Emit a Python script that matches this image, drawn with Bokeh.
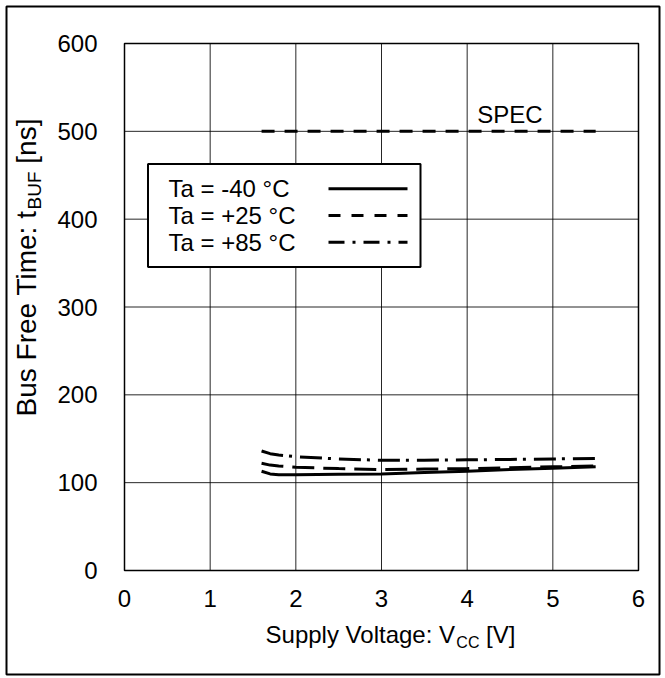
from bokeh.plotting import figure
from bokeh.models import Range1d, Label, BoxAnnotation, FixedTicker
from bokeh.embed import file_html
from bokeh.resources import INLINE
import math

# ---------------- data ----------------
vcc = [1.6, 1.7, 1.8, 2.0, 2.5, 3.0, 3.5, 4.0, 4.5, 5.0, 5.5]
tbuf_m40 = [113, 110, 109, 109, 109.5, 110, 111.5, 113, 115, 116.5, 118]
tbuf_p25 = [122, 120, 119, 117.5, 116, 115, 115.5, 116, 117, 118, 119]
tbuf_p85 = [136, 133, 131.5, 129.5, 127, 125.5, 125.5, 126, 126.5, 127, 127.5]
spec_x = [1.6, 5.5]
spec_y = [500, 500]
series_names = ["Ta = -40 °C", "Ta = +25 °C", "Ta = +85 °C"]
x_ticks = [0, 1, 2, 3, 4, 5, 6]
y_ticks = [0, 100, 200, 300, 400, 500, 600]

FONT = "Liberation Sans"
FS = 24
W, H = 665, 678

# pixel placement of the data area inside the canvas
PX_L, PX_R, PX_B, PX_T = 124, 638, 570, 43
XMIN, XMAX, YMIN, YMAX = 0, 6, 0, 600
SX = (PX_R - PX_L) / (XMAX - XMIN)
SY = (PX_B - PX_T) / (YMAX - YMIN)

def dx(px):
    return XMIN + (px - PX_L) / SX

def dy(py):
    return YMIN + (PX_B - py) / SY

p = figure(width=W, height=H, x_range=Range1d(dx(0), dx(W)), y_range=Range1d(dy(H), dy(0)),
           output_backend="svg", toolbar_location=None,
           min_border_left=0, min_border_right=0, min_border_top=0, min_border_bottom=0)
p.title.visible = False
p.background_fill_color = "white"
p.border_fill_color = "white"
p.outline_line_color = None
p.grid.visible = False

# axes drawn at the edges of the data area
p.xaxis.fixed_location = 0
p.yaxis.fixed_location = 0
p.xaxis.bounds = (XMIN, XMAX)
p.yaxis.bounds = (YMIN, YMAX)
for ax, ticks in ((p.xaxis[0], x_ticks), (p.yaxis[0], y_ticks)):
    ax.ticker = FixedTicker(ticks=ticks)
    ax.axis_line_color = None
    ax.major_tick_line_color = None
    ax.minor_tick_line_color = None
    ax.major_tick_in = 0
    ax.major_tick_out = 0
    ax.major_label_text_font = FONT
    ax.major_label_text_font_size = f"{FS}px"
    ax.major_label_text_color = "black"
p.xaxis.major_label_standoff = 19
p.yaxis.major_label_standoff = 27

# grid lines at the ticks
p.segment(x0=x_ticks, y0=[YMIN] * len(x_ticks), x1=x_ticks, y1=[YMAX] * len(x_ticks),
          line_color="black", line_width=1, line_alpha=0.85)
p.segment(x0=[XMIN] * len(y_ticks), y0=y_ticks, x1=[XMAX] * len(y_ticks), y1=y_ticks,
          line_color="black", line_width=1, line_alpha=0.85)

# plot-area frame and outer border
p.add_layout(BoxAnnotation(left=XMIN, right=XMAX, bottom=YMIN, top=YMAX, fill_alpha=0,
                           line_color="black", line_alpha=1, line_width=1.5))
p.add_layout(BoxAnnotation(left=dx(6), right=dx(659), bottom=dy(674), top=dy(6), fill_alpha=0,
                           line_color="black", line_alpha=1, line_width=2))

# curves
curve_dash = ["solid", "22 9", "22 6 3 8"]
legend_dash = ["solid", "12 11", "16 8 3 8"]
for dash, ys in zip(curve_dash, [tbuf_m40, tbuf_p25, tbuf_p85]):
    p.line(vcc, ys, line_color="black", line_width=3, line_dash=dash)
p.line(spec_x, spec_y, line_color="black", line_width=3, line_dash="13 10")
p.add_layout(Label(x=dx(509.5), y=dy(113.5), text="SPEC", text_align="center", text_baseline="middle",
                   text_font=FONT, text_font_size=f"{FS}px", text_color="black"))

# legend (label left, sample right)
p.quad(left=[dx(147.5)], right=[dx(420)], top=[dy(163.5)], bottom=[dy(266.5)],
       fill_color="white", line_color="black", line_width=2)
row_py = [188.3, 215.0, 241.7]
for dash, name, ry in zip(legend_dash, series_names, row_py):
    p.line([dx(328), dx(407)], [dy(ry), dy(ry)], line_color="black", line_width=3, line_dash=dash)
    p.add_layout(Label(x=dx(168), y=dy(ry), text=name, text_align="left", text_baseline="middle",
                       text_font=FONT, text_font_size=f"{FS}px", text_color="black"))

# composite axis titles with subscripts (pieces placed side by side)
CW = {' ': 278, '[': 278, ']': 278, ':': 278, 'S': 667, 'u': 556, 'p': 556, 'l': 222, 'y': 500,
      'V': 667, 'o': 556, 't': 278, 'a': 556, 'g': 556, 'e': 556, 'C': 722, 'B': 667, 's': 500,
      'F': 611, 'r': 333, 'T': 611, 'i': 222, 'm': 833, 'U': 722, 'n': 556}

def tw(s, size):
    return sum(CW.get(c, 556) for c in s) * size / 1000.0

SUB = 16
# (text, font size, shift towards baseline side, advance before piece)
x_parts = [("Supply Voltage: V", FS, 0, 0), ("CC", SUB, 7.5, 0), ("[V]", FS, 0, tw(" ", FS))]
total = sum(tw(s, f) + pre for s, f, _, pre in x_parts)
px = 390 - total / 2
for s, f, off, pre in x_parts:
    px += pre
    p.add_layout(Label(x=dx(px), y=dy(634 + off), text=s, text_align="left", text_baseline="middle",
                       text_font=FONT, text_font_size=f"{f}px", text_color="black"))
    px += tw(s, f)

YFS, YSUB = 28, 19
y_parts = [("Bus Free Time: t", YFS, 0, 0), ("BUF", YSUB, 8, 0), ("[ns]", YFS, 0, tw(" ", YFS))]
ytotal = sum(tw(s, f) + pre for s, f, _, pre in y_parts)
py = 267 + ytotal / 2
for s, f, off, pre in y_parts:
    py -= pre
    p.add_layout(Label(x=dx(26 + off), y=dy(py), text=s, angle=math.pi / 2,
                       text_align="left", text_baseline="middle",
                       text_font=FONT, text_font_size=f"{f}px", text_color="black"))
    py -= tw(s, f)

open("out.html", "w").write(file_html(p, INLINE))
